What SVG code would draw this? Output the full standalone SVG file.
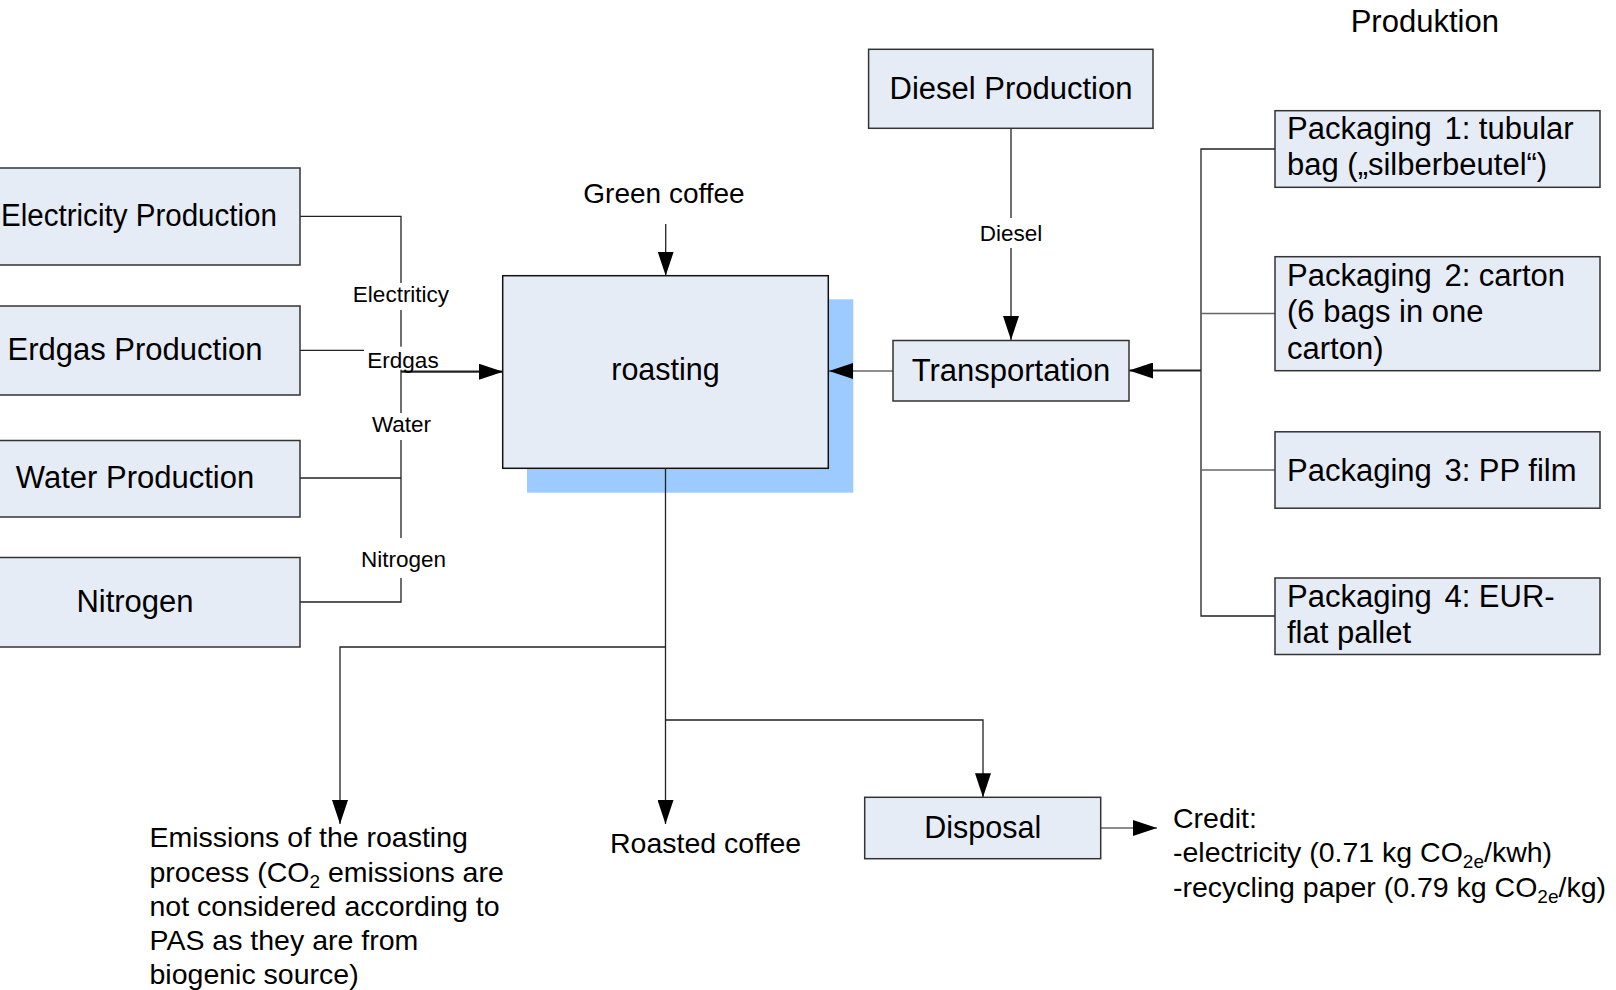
<svg xmlns="http://www.w3.org/2000/svg" width="1616" height="990" viewBox="0 0 1616 990">
<defs>
<marker id="arr" viewBox="0 0 24 16" markerWidth="24" markerHeight="16" refX="24" refY="8" orient="auto" markerUnits="userSpaceOnUse"><path d="M0,0 L24,8 L0,16 Z" fill="#000"/></marker>
<style>
.box{fill:#e6ecf6;stroke:#333;stroke-width:1.5}
.t{font-family:"Liberation Sans",Arial,sans-serif;fill:#000}
.lbl{font-size:31px;text-anchor:middle}
.pk{font-size:31px}
.edge{fill:none;stroke:#222;stroke-width:1.3}
.gray{stroke:#666}
.thick{stroke-width:2.2}
.elbl{font-size:22.5px;text-anchor:middle}
.bg{fill:#fff}
.plain{font-size:28.5px}
.sub{font-size:19px}
</style>
</defs>
<rect width="1616" height="990" fill="#fff"/>

<g id="roasting">
<rect x="527" y="299.3" width="326.3" height="193.4" fill="#9dcbff"/>
<rect class="box" x="502.7" y="275.7" width="325.6" height="192.6" style="stroke:#111"/>
<text class="t" x="665.5" y="380" style="font-size:30.5px;text-anchor:middle">roasting</text>
</g>

<g id="connectors">
<path class="edge" d="M300,216.4 H401 V602 H300"/>
<path class="edge" d="M300,350.4 H401"/>
<path class="edge" d="M300,478 H401"/>
<path class="edge" d="M665.7,224 V275.7" marker-end="url(#arr)"/>
<path class="edge gray" d="M893,371 H829" marker-end="url(#arr)"/>
<path class="edge" d="M1011,128.3 V340" marker-end="url(#arr)"/>
<path class="edge" d="M1275,149 H1201 V616 H1275"/>
<path class="edge gray" d="M1201,313.5 H1275"/>
<path class="edge gray" d="M1201,470 H1275"/>
<path class="edge thick" d="M1201,370.5 H1129" marker-end="url(#arr)"/>
<path class="edge" d="M665.5,468.3 V824" marker-end="url(#arr)"/>
<path class="edge" d="M665.5,647 H340 V824" marker-end="url(#arr)"/>
<path class="edge" d="M665.5,720 H983 V797.3" marker-end="url(#arr)"/>
<path class="edge gray" d="M1100.7,828 H1157" marker-end="url(#arr)"/>
<rect class="bg" x="350" y="283" width="102" height="27"/>
<rect class="bg" x="364" y="346.7" width="78" height="23"/>
<rect class="bg" x="366" y="413" width="70" height="27"/>
<rect class="bg" x="355" y="538" width="98" height="40"/>
<rect class="bg" x="978" y="218" width="66" height="30"/>
<path class="edge thick" d="M401,371.7 H503" marker-end="url(#arr)"/>
<text class="t elbl" x="401" y="301.5">Electriticy</text>
<text class="t elbl" x="403" y="368">Erdgas</text>
<text class="t elbl" x="401.5" y="431.5">Water</text>
<text class="t elbl" x="403.5" y="566.5">Nitrogen</text>
<text class="t elbl" x="1011" y="241">Diesel</text>
</g>

<g id="electricity">
<rect class="box" x="-40" y="168" width="340" height="97"/>
<text class="t" x="1" y="226" style="font-size:31px" textLength="276" lengthAdjust="spacingAndGlyphs">Electricity Production</text>
</g>
<g id="erdgas">
<rect class="box" x="-40" y="306" width="340" height="89"/>
<text class="t lbl" x="135" y="359.5">Erdgas Production</text>
</g>
<g id="water">
<rect class="box" x="-40" y="440.5" width="340" height="76.5"/>
<text class="t lbl" x="135" y="487.5">Water Production</text>
</g>
<g id="nitrogen">
<rect class="box" x="-40" y="557.5" width="340" height="89.5"/>
<text class="t lbl" x="135" y="611.5">Nitrogen</text>
</g>

<g id="green-coffee">
<text class="t" x="664" y="203" text-anchor="middle" style="font-size:28px">Green coffee</text>
</g>

<g id="diesel">
<rect class="box" x="868.6" y="49.3" width="284.4" height="79"/>
<text class="t lbl" x="1011" y="98.5">Diesel Production</text>
</g>

<g id="transportation">
<rect class="box" x="893" y="340.5" width="236" height="60.5"/>
<text class="t lbl" x="1011" y="381">Transportation</text>
</g>

<g id="produktion">
<text class="t" x="1350.7" y="32" style="font-size:31px">Produktion</text>
</g>

<g id="packaging1">
<rect class="box" x="1275" y="110.7" width="325" height="76.6"/>
<text class="t pk" x="1287" y="138.5">Packaging<tspan dx="4"> 1: tubular</tspan></text>
<text class="t pk" x="1287" y="175">bag („silberbeutel“)</text>
</g>
<g id="packaging2">
<rect class="box" x="1275" y="256.7" width="325" height="114"/>
<text class="t pk" x="1287" y="285.5">Packaging<tspan dx="4"> 2: carton</tspan></text>
<text class="t pk" x="1287" y="322">(6 bags in one</text>
<text class="t pk" x="1287" y="358.5">carton)</text>
</g>
<g id="packaging3">
<rect class="box" x="1275" y="431.8" width="325" height="76.4"/>
<text class="t pk" x="1287" y="480.5">Packaging<tspan dx="4"> 3: PP film</tspan></text>
</g>
<g id="packaging4">
<rect class="box" x="1275" y="578" width="325" height="76.5"/>
<text class="t pk" x="1287" y="606.5">Packaging<tspan dx="4"> 4: EUR-</tspan></text>
<text class="t pk" x="1287" y="643">flat pallet</text>
</g>

<g id="emissions">
<text class="t plain" x="149.5" y="847">Emissions of the roasting</text>
<text class="t plain" x="149.5" y="881.5">process (CO<tspan class="sub" dy="6">2</tspan><tspan dy="-6"> emissions are</tspan></text>
<text class="t plain" x="149.5" y="916">not considered according to</text>
<text class="t plain" x="149.5" y="950">PAS as they are from</text>
<text class="t plain" x="149.5" y="984">biogenic source)</text>
</g>

<g id="roasted-coffee">
<text class="t plain" x="610" y="853">Roasted coffee</text>
</g>

<g id="disposal">
<rect class="box" x="864.7" y="797.3" width="236" height="61.4"/>
<text class="t" x="982.7" y="837.5" style="font-size:30.5px;text-anchor:middle">Disposal</text>
</g>

<g id="credit">
<text class="t plain" x="1173" y="827.5">Credit:</text>
<text class="t plain" x="1173" y="862">-electricity (0.71 kg CO<tspan class="sub" dy="6">2e</tspan><tspan dy="-6">/kwh)</tspan></text>
<text class="t plain" x="1173" y="897">-recycling paper (0.79 kg CO<tspan class="sub" dy="6">2e</tspan><tspan dy="-6">/kg)</tspan></text>
</g>
</svg>
